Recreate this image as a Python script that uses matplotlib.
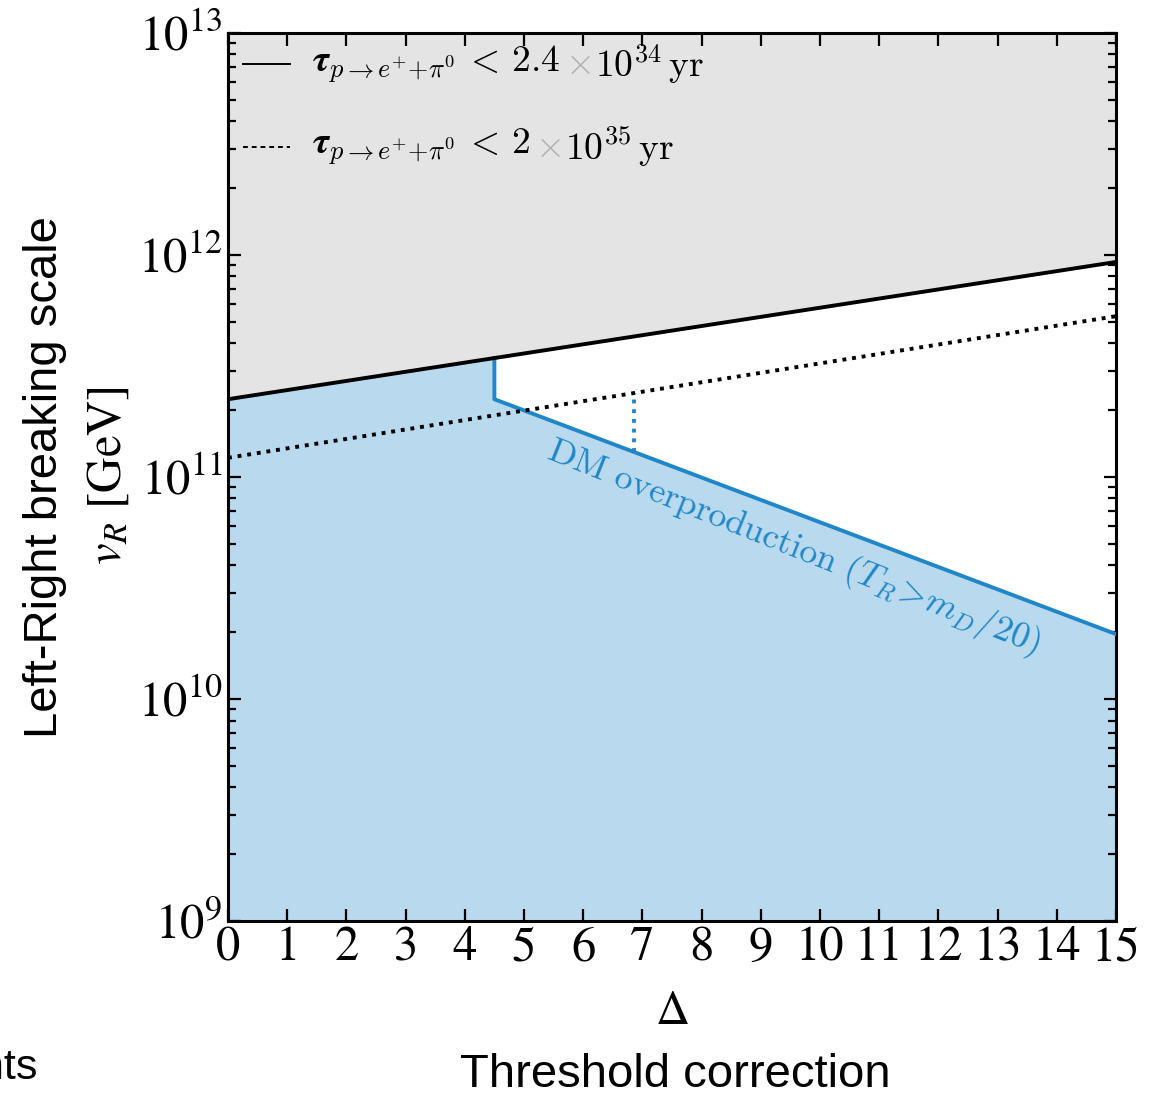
import numpy as np
import matplotlib
matplotlib.use("Agg")
import matplotlib.pyplot as plt
from matplotlib.lines import Line2D
from matplotlib.offsetbox import (AnchoredOffsetbox, HPacker, VPacker,
                                  TextArea, DrawingArea)

plt.rcParams["font.family"] = "serif"
plt.rcParams["font.serif"] = ["STIXGeneral", "Liberation Serif", "DejaVu Serif"]
plt.rcParams["mathtext.fontset"] = "stix"

# Threshold correction Delta and proton-decay bounds on v_R (GeV)
delta = [0.0, 15.0]
vr_current = [2.24e11, 9.3e11]   # tau(p -> e+ pi0) < 2.4e34 yr
vr_future = [1.22e11, 5.3e11]    # tau(p -> e+ pi0) < 2e35 yr

# DM overproduction boundary (T_R > m_D/20)
dm_delta = [4.5, 4.5, 15.0]
dm_vr = [3.44e11, 2.24e11, 1.96e10]

# excluded (blue) region edge: proton-decay line up to the kink, then DM line
excl_delta = [0.0, 4.5, 4.5, 15.0]
excl_vr = [2.24e11, 3.44e11, 2.24e11, 1.96e10]

# dotted marker between the future bound and the DM line
marker_delta = [6.85, 6.85]
marker_vr = [1.30e11, 2.39e11]

xticks = list(range(0, 16))
ymin, ymax = 1e9, 1e13

blue_line = "#1f87c9"
blue_fill = "#b9d9ee"
grey_fill = "#e4e4e4"

fig = plt.figure(figsize=(11.68, 10.95), dpi=100)
ax = fig.add_axes([0.1952, 0.1589, 0.7603, 0.8110])
ax.set_yscale("log")
ax.set_xlim(0, 15)
ax.set_ylim(ymin, ymax)

ax.fill_between(delta, vr_current, ymax, color=grey_fill, lw=0, zorder=1)
ax.fill_between(excl_delta, ymin, excl_vr, color=blue_fill, lw=0, zorder=1)

dots = (0, (1.0, 1.5))
ax.plot(delta, vr_current, color="black", lw=2.8, solid_capstyle="butt", zorder=4)
ax.plot(delta, vr_future, color="black", lw=2.8, ls=dots, zorder=4)
ax.plot(dm_delta, dm_vr, color=blue_line, lw=2.8, zorder=3)
ax.plot(marker_delta, marker_vr, color=blue_line, lw=2.8, ls=dots, zorder=3)

ax.text(9.55, 4.8e10, r"$\mathrm{DM\ overproduction}\ (T_R\!>\!m_D/20)$",
        color=blue_line, fontsize=26, rotation=-21.8, ha="center", va="center",
        rotation_mode="anchor", math_fontfamily="cm", zorder=5)

ax.set_xticks(xticks)
ax.tick_params(axis="both", which="both", direction="in", top=True, right=True,
               labelsize=35, width=1.6, pad=4)
ax.tick_params(axis="both", which="major", length=9)
ax.tick_params(axis="both", which="minor", length=6)
for s in ax.spines.values():
    s.set_linewidth(2.2)
ax.set_xlabel(r"$\Delta$", fontsize=34, labelpad=14)

# legend built from pieces so the multiplication sign can be grey
def legend_row(ls, pieces):
    da = DrawingArea(34, 16, 0, 0)
    da.add_artist(Line2D([0, 34], [8, 8], color="black", lw=1.4, ls=ls))
    boxes = [da, DrawingArea(10, 1, 0, 0)]
    for txt, col in pieces:
        boxes.append(TextArea(txt, textprops=dict(color=col, fontsize=27,
                                                   math_fontfamily="cm")))
    return HPacker(children=boxes, align="center", pad=0, sep=3)

tau = r"$\boldsymbol{\tau}_{p{\rightarrow}e^{+}{+}\pi^{0}}\,<\,"
row1 = legend_row("-", [(tau + r"2.4$", "black"), (r"$\times$", "#b0b0b0"),
                        (r"$10^{34}\,\mathrm{yr}$", "black")])
row2 = legend_row((0, (2.5, 2.0)), [(tau + r"2$", "black"), (r"$\times$", "#b0b0b0"),
                                     (r"$10^{35}\,\mathrm{yr}$", "black")])
rows = VPacker(children=[row1, row2], align="left", pad=0, sep=28)
leg = AnchoredOffsetbox(loc="upper left", child=rows, frameon=False,
                        bbox_to_anchor=(0.006, 1.0), bbox_transform=ax.transAxes,
                        borderpad=0.3)
leg.set_zorder(6)
ax.add_artist(leg)

# outer axis descriptions
fig.text(0.0385, 0.564, "Left-Right breaking scale", rotation=90, ha="center",
         va="center", fontsize=34, family="Liberation Sans")
fig.text(0.093, 0.566, r"$v_R$ [GeV]", rotation=90, ha="center", va="center",
         fontsize=35)
fig.text(0.578, 0.018, "Threshold correction", ha="center", va="center",
         fontsize=34, family="Liberation Sans")
fig.text(0.033, 0.0247, "Constraints", ha="right", va="center",
         fontsize=31, family="Liberation Sans")

fig.savefig("out.png", dpi=100)
